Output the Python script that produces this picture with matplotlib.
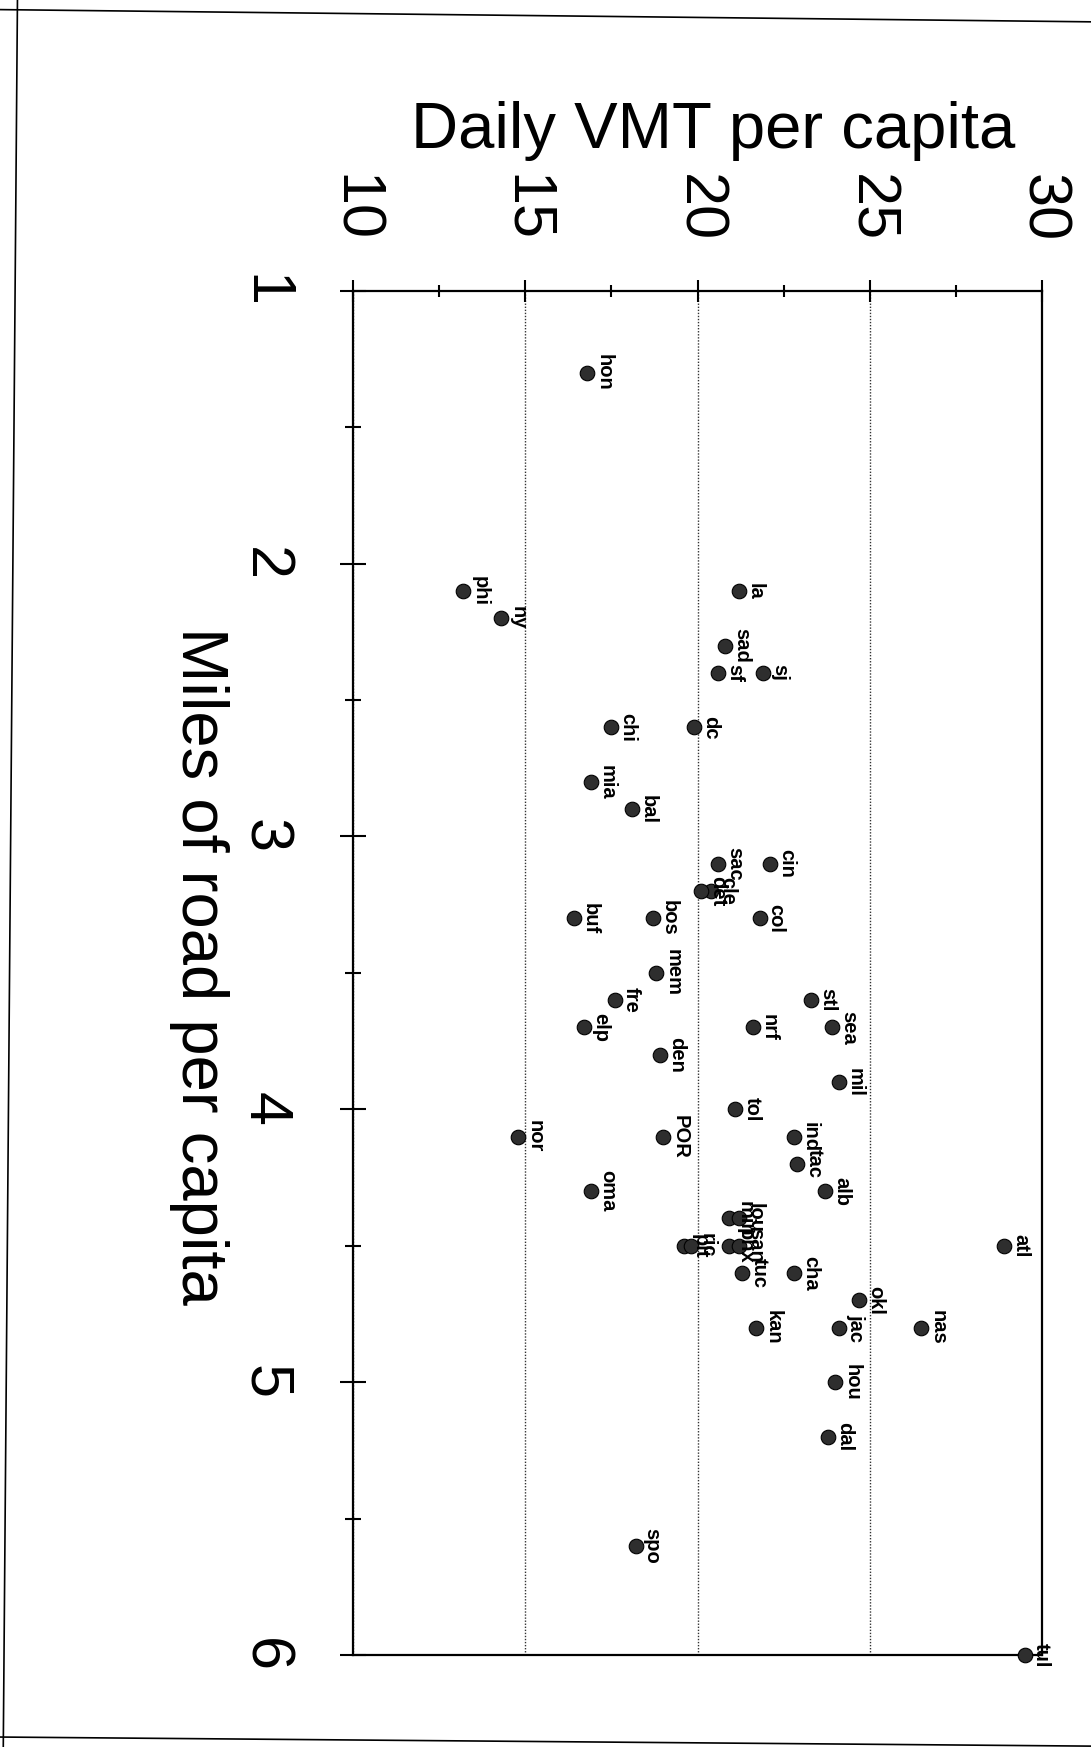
import matplotlib.pyplot as plt
from matplotlib.lines import Line2D

plt.rcParams['font.family'] = ['Liberation Sans', 'DejaVu Sans']

# city codes, daily VMT per capita, miles of road per capita
cities = ["hon", "phi", "ny", "la", "sad", "sf", "sj", "chi", "dc", "mia",
          "bal", "cin", "sac", "cle", "det", "col", "buf", "bos", "mem", "fre",
          "elp", "den", "stl", "sea", "nrf", "mil", "tol", "POR", "nor", "ind",
          "tac", "alb", "oma", "atl", "min", "lou", "phx", "san", "pit", "ric",
          "tuc", "cha", "okl", "jac", "nas", "kan", "hou", "dal", "spo", "tul"]
vmt = [16.8, 13.2, 14.3, 21.2, 20.8, 20.6, 21.9, 17.5, 19.9, 16.9,
       18.1, 22.1, 20.6, 20.4, 20.1, 21.8, 16.4, 18.7, 18.8, 17.6,
       16.7, 18.9, 23.3, 23.9, 21.6, 24.1, 21.1, 19.0, 14.8, 22.8,
       22.9, 23.7, 16.9, 28.9, 20.9, 21.2, 20.9, 21.2, 19.6, 19.8,
       21.3, 22.8, 24.7, 24.1, 26.5, 21.7, 24.0, 23.8, 18.2, 29.5]
miles = [1.3, 2.1, 2.2, 2.1, 2.3, 2.4, 2.4, 2.6, 2.6, 2.8,
         2.9, 3.1, 3.1, 3.2, 3.2, 3.3, 3.3, 3.3, 3.5, 3.6,
         3.7, 3.8, 3.6, 3.7, 3.7, 3.9, 4.0, 4.1, 4.1, 4.1,
         4.2, 4.3, 4.3, 4.5, 4.4, 4.4, 4.5, 4.5, 4.5, 4.5,
         4.6, 4.6, 4.7, 4.8, 4.8, 4.8, 5.0, 5.2, 5.6, 6.0]

vmt_ticks = [10, 15, 20, 25, 30]
vmt_minor = [12.5, 17.5, 22.5, 27.5]
road_ticks = [1, 2, 3, 4, 5, 6]
road_minor = [1.5, 2.5, 3.5, 4.5, 5.5]

fig = plt.figure(figsize=(10.91, 17.47), dpi=100)
ax = fig.add_axes([0.3236, 0.0527, 0.6315, 0.7808])

ax.scatter(vmt, miles, s=110, facecolor="#2e2e2e", edgecolor="black",
           linewidth=0.8, zorder=3, clip_on=False)
for name, x, y in zip(cities, vmt, miles):
    ax.annotate(name, (x, y), xytext=(8, 0), textcoords="offset points",
                rotation=270, rotation_mode="anchor", ha="center", va="baseline",
                fontsize=14.5, fontweight="bold", zorder=4)

ax.set_xlim(10, 30)
ax.set_ylim(6, 1)
ax.xaxis.tick_top()
ax.set_xticks(vmt_ticks)
ax.set_xticks(vmt_minor, minor=True)
ax.set_yticks(road_ticks)
ax.set_yticks(road_minor, minor=True)

ax.tick_params(axis="x", which="major", direction="inout", length=16, width=1.5,
               pad=27, labelsize=44, labelrotation=270)
ax.tick_params(axis="x", which="minor", direction="inout", length=9, width=1.5)
ax.tick_params(axis="y", which="major", direction="inout", length=19, width=1.5,
               pad=34, labelsize=44, labelrotation=270)
ax.tick_params(axis="y", which="minor", direction="inout", length=12, width=1.5)
plt.setp(ax.get_yticklabels(), va="center")

ax.grid(True, axis="x", which="major", linestyle=(0, (1, 1.2)), color="#333333",
        linewidth=1.0)
for s in ax.spines.values():
    s.set_linewidth(1.6)

fig.text(0.6535, 0.9153, "Daily VMT per capita", fontsize=47, ha="center",
         va="baseline")
fig.text(0.1668, 0.447, "Miles of road per capita", fontsize=47, rotation=270,
         rotation_mode="anchor", ha="center", va="baseline")

# page edges
fig.add_artist(Line2D([0.0, 1.0], [0.9945, 0.9875], color="black", linewidth=1.2))
fig.add_artist(Line2D([0.016, 0.003], [1.0, 0.0], color="black", linewidth=1.2))
fig.add_artist(Line2D([0.0, 1.0], [0.0057, 0.0005], color="black", linewidth=1.2))

plt.savefig("out.png", dpi=100)
